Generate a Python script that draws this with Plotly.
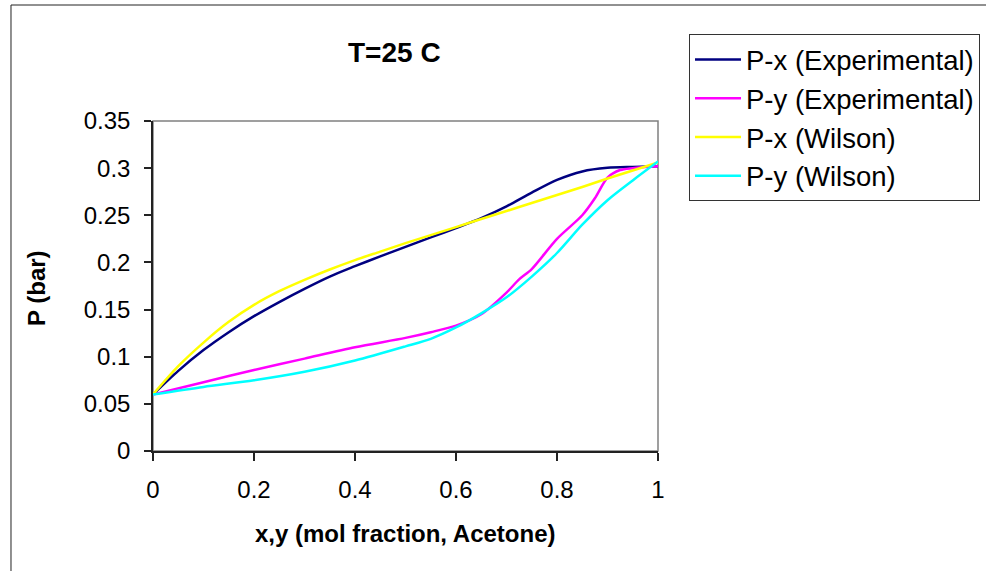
import plotly.graph_objects as go

# ---- data ----
x_px_exp = [0, 0.05, 0.1, 0.15, 0.2, 0.25, 0.3, 0.35, 0.4, 0.45, 0.5, 0.55, 0.6, 0.65, 0.7, 0.75, 0.8, 0.85, 0.9, 0.95, 1.0]
p_px_exp = [0.060, 0.085, 0.107, 0.126, 0.143, 0.158, 0.172, 0.185, 0.196, 0.2065, 0.2165, 0.2265, 0.2365, 0.247, 0.2595, 0.274, 0.2875, 0.2965, 0.3003, 0.3013, 0.302]

y_py_exp = [0, 0.1, 0.2, 0.3, 0.4, 0.5, 0.55, 0.6, 0.65, 0.7, 0.725, 0.75, 0.8, 0.85, 0.875, 0.9, 0.925, 0.95, 1.0]
p_py_exp = [0.060, 0.073, 0.086, 0.098, 0.110, 0.120, 0.126, 0.133, 0.145, 0.168, 0.182, 0.193, 0.225, 0.250, 0.268, 0.290, 0.298, 0.300, 0.302]

x_px_wil = [0, 0.05, 0.1, 0.15, 0.2, 0.25, 0.3, 0.35, 0.4, 0.45, 0.5, 0.55, 0.6, 0.65, 0.7, 0.75, 0.8, 0.85, 0.9, 0.95, 1.0]
p_px_wil = [0.060, 0.090, 0.115, 0.137, 0.155, 0.1695, 0.1815, 0.1925, 0.2025, 0.2115, 0.2205, 0.229, 0.2375, 0.246, 0.2545, 0.263, 0.2715, 0.280, 0.289, 0.2975, 0.306]

y_py_wil = [0, 0.1, 0.2, 0.3, 0.4, 0.5, 0.55, 0.6, 0.65, 0.7, 0.75, 0.8, 0.85, 0.9, 0.95, 1.0]
p_py_wil = [0.060, 0.068, 0.075, 0.084, 0.096, 0.111, 0.119, 0.131, 0.146, 0.163, 0.185, 0.210, 0.240, 0.266, 0.287, 0.307]

x_ticks = [0, 0.2, 0.4, 0.6, 0.8, 1]
x_tick_labels = ["0", "0.2", "0.4", "0.6", "0.8", "1"]
y_ticks = [0, 0.05, 0.1, 0.15, 0.2, 0.25, 0.3, 0.35]
y_tick_labels = ["0", "0.05", "0.1", "0.15", "0.2", "0.25", "0.3", "0.35"]

series = [
    ("P-x (Experimental)", x_px_exp, p_px_exp, "#000080"),
    ("P-y (Experimental)", y_py_exp, p_py_exp, "#FF00FF"),
    ("P-x (Wilson)", x_px_wil, p_px_wil, "#FFFF00"),
    ("P-y (Wilson)", y_py_wil, p_py_wil, "#00FFFF"),
]

FONT = "Liberation Sans, Arial, sans-serif"

fig = go.Figure()
for name, xs, ps, col in series:
    fig.add_trace(go.Scatter(x=xs, y=ps, mode="lines", name=name,
                             line=dict(color=col, width=2.5, shape="spline", smoothing=0.8)))

fig.update_layout(
    width=986, height=571,
    margin=dict(l=153, r=328, t=121, b=120, autoexpand=False),
    paper_bgcolor="white", plot_bgcolor="white",
    font=dict(family=FONT, color="black", size=24),
    showlegend=True,
    legend=dict(x=1.0614, y=1.2636, xanchor="left", yanchor="top",
                bgcolor="white", bordercolor="#333333", borderwidth=1,
                font=dict(family=FONT, size=27.5, color="black"),
                itemwidth=46, tracegroupgap=0),
    xaxis=dict(range=[0, 1], tickvals=x_ticks, ticktext=x_tick_labels,
               showgrid=False, zeroline=False, showline=True, linecolor="#222222", linewidth=1.5,
               ticks="outside", ticklen=8, tickcolor="#222222", tickwidth=1.5,
               ticklabelstandoff=8, tickfont=dict(size=24), fixedrange=True),
    yaxis=dict(range=[0, 0.35], tickvals=y_ticks, ticktext=y_tick_labels,
               showgrid=False, zeroline=False, showline=True, linecolor="#222222", linewidth=1.5,
               ticks="outside", ticklen=7, tickcolor="#222222", tickwidth=1.5,
               ticklabelstandoff=9, tickfont=dict(size=24), fixedrange=True),
    shapes=[
        dict(type="rect", xref="paper", yref="paper", x0=0, x1=1, y0=0, y1=1,
             line=dict(color="#808080", width=1.5), layer="below"),
        dict(type="rect", xref="paper", yref="paper", x0=-0.2812, x1=1.66, y0=-0.38, y1=1.3515,
             line=dict(color="#222222", width=1), layer="below"),
    ],
    annotations=[
        dict(text="<b>T=25 C</b>", xref="paper", yref="paper", x=0.479, y=1.209,
             xanchor="center", yanchor="middle", showarrow=False, font=dict(size=28)),
        dict(text="<b>x,y (mol fraction, Acetone)</b>", xref="paper", yref="paper", x=0.5, y=-0.2485,
             xanchor="center", yanchor="middle", showarrow=False, font=dict(size=24)),
        dict(text="<b>P (bar)</b>", xref="paper", yref="paper", x=-0.2297, y=0.494,
             xanchor="center", yanchor="middle", showarrow=False, textangle=-90, font=dict(size=24)),
    ],
)

fig.write_html("out.html", config={"displayModeBar": False},
               post_script="document.body.style.margin='0';")
